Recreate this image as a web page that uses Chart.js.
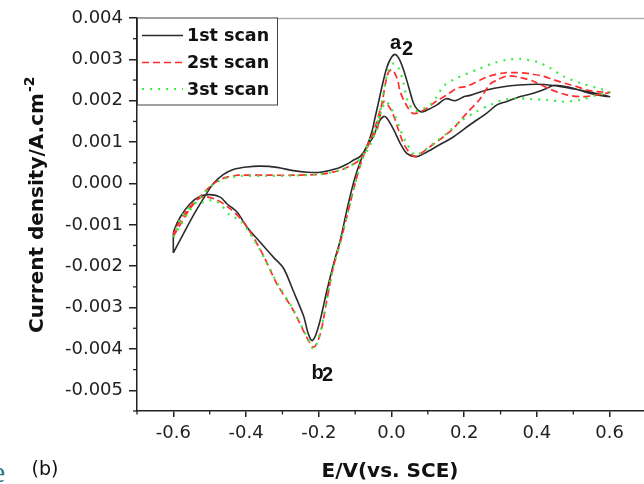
<!DOCTYPE html>
<html>
<head>
<meta charset="utf-8">
<script src="https://cdn.jsdelivr.net/npm/chart.js@4.4.1/dist/chart.umd.min.js"></script>
<style>
  html, body { margin:0; padding:0; background:#fff; overflow:hidden; width:644px; height:484px; }
  canvas { display:block; }
</style>
</head>
<body>
<canvas id="c" width="646" height="484"></canvas>
<script>
// ---- Data (E in V vs. SCE, current density in A/cm^2) ----
const seriesNames = ['1st scan', '2st scan', '3st scan'];

const scan1FwdE = [-0.6,-0.572,-0.545,-0.517,-0.49,-0.462,-0.435,-0.398,-0.361,-0.315,-0.27,-0.23,-0.196,-0.15,-0.12,-0.105,-0.085,-0.068,-0.054,-0.045,-0.036,-0.026,-0.013,0.0,0.01,0.02,0.033,0.047,0.06,0.07,0.082,0.097,0.125,0.15,0.175,0.2,0.216,0.262,0.308,0.35,0.4,0.445,0.48,0.519,0.56,0.6];
const scan1FwdJ = [-0.00168,-0.00121,-0.00077,-0.00036,0.0,0.00022,0.00034,0.0004,0.00042,0.00039,0.00031,0.00027,0.00027,0.00036,0.00048,0.00056,0.00066,0.0009,0.00125,0.0016,0.00195,0.00235,0.0028,0.00305,0.00312,0.00303,0.00275,0.00234,0.00195,0.0018,0.00173,0.00177,0.0019,0.00205,0.002,0.0021,0.00213,0.00226,0.00234,0.00238,0.0024,0.00237,0.00232,0.00226,0.00218,0.0021];
const scan1RevE = [0.565,0.53,0.5,0.465,0.445,0.427,0.39,0.354,0.317,0.29,0.262,0.216,0.171,0.125,0.095,0.07,0.042,0.024,0.006,-0.013,-0.022,-0.036,-0.05,-0.068,-0.091,-0.105,-0.123,-0.141,-0.155,-0.178,-0.196,-0.21,-0.219,-0.23,-0.242,-0.27,-0.297,-0.325,-0.343,-0.361,-0.398,-0.425,-0.453,-0.471,-0.499,-0.526,-0.554,-0.581,-0.598,-0.6,-0.6];
const scan1RevJ = [0.00214,0.00222,0.0023,0.00236,0.00237,0.0023,0.00218,0.0021,0.00198,0.0019,0.0017,0.00142,0.00113,0.0009,0.00075,0.00065,0.00073,0.00097,0.0013,0.00158,0.00162,0.00146,0.00113,0.00089,0.0004,0.0,-0.00065,-0.00138,-0.0018,-0.0026,-0.0033,-0.0037,-0.0038,-0.0036,-0.0032,-0.0026,-0.00205,-0.00178,-0.0016,-0.00142,-0.00105,-0.00069,-0.00049,-0.00033,-0.00027,-0.00031,-0.00049,-0.00081,-0.00113,-0.00125,-0.00168];

const scan2FwdE = [-0.6,-0.58,-0.555,-0.527,-0.5,-0.475,-0.45,-0.42,-0.35,-0.27,-0.2,-0.17,-0.14,-0.12,-0.095,-0.077,-0.06,-0.04,-0.026,-0.011,0.001,0.015,0.024,0.038,0.056,0.07,0.097,0.125,0.152,0.18,0.207,0.244,0.271,0.308,0.345,0.381,0.418,0.445,0.473,0.51,0.537,0.565,0.6];
const scan2FwdJ = [-0.00128,-0.00098,-0.00062,-0.00032,-0.00008,0.00008,0.00016,0.0002,0.0002,0.0002,0.00022,0.00026,0.00032,0.0004,0.00052,0.0007,0.00105,0.0013,0.00194,0.00263,0.00275,0.00255,0.00222,0.00194,0.00171,0.0017,0.00182,0.002,0.00214,0.0023,0.00235,0.0025,0.0026,0.00267,0.00268,0.00265,0.00259,0.00251,0.00243,0.00234,0.00226,0.00222,0.0022];
const scan2RevE = [0.565,0.528,0.482,0.436,0.39,0.355,0.32,0.29,0.271,0.244,0.207,0.171,0.143,0.106,0.065,0.051,0.033,0.019,0.01,-0.004,-0.022,-0.04,-0.06,-0.08,-0.1,-0.12,-0.14,-0.16,-0.178,-0.196,-0.214,-0.233,-0.27,-0.315,-0.352,-0.38,-0.407,-0.444,-0.48,-0.517,-0.545,-0.575,-0.6];
const scan2RevJ = [0.00214,0.0021,0.00214,0.00228,0.00247,0.00256,0.0026,0.0025,0.0024,0.00205,0.0017,0.00134,0.00113,0.00089,0.00065,0.00073,0.00097,0.0013,0.00154,0.00182,0.00198,0.0015,0.001,0.0006,0.0,-0.0007,-0.0014,-0.00202,-0.00283,-0.00364,-0.00396,-0.00372,-0.00307,-0.00243,-0.00175,-0.0013,-0.00093,-0.00061,-0.0004,-0.00032,-0.00048,-0.0008,-0.00122];

const scan3FwdE = [-0.6,-0.58,-0.555,-0.527,-0.5,-0.475,-0.45,-0.42,-0.35,-0.27,-0.2,-0.17,-0.14,-0.12,-0.095,-0.077,-0.06,-0.04,-0.026,-0.01,0.005,0.019,0.033,0.046,0.065,0.085,0.106,0.125,0.143,0.18,0.235,0.281,0.317,0.354,0.4,0.436,0.473,0.519,0.565,0.6];
const scan3FwdJ = [-0.0013,-0.001,-0.00065,-0.00035,-0.0001,0.00006,0.00014,0.00018,0.00018,0.00019,0.00022,0.00026,0.00032,0.0004,0.00052,0.0007,0.00105,0.0014,0.002,0.0027,0.0029,0.0028,0.00243,0.00195,0.00176,0.0018,0.0019,0.0021,0.00235,0.00255,0.00275,0.00291,0.00299,0.00301,0.00294,0.00279,0.00259,0.00243,0.00231,0.0022];
const scan3RevE = [0.565,0.519,0.473,0.427,0.381,0.345,0.308,0.271,0.226,0.189,0.152,0.116,0.079,0.065,0.042,0.024,0.006,-0.015,-0.03,-0.045,-0.06,-0.08,-0.1,-0.12,-0.14,-0.16,-0.178,-0.196,-0.214,-0.233,-0.27,-0.315,-0.338,-0.361,-0.389,-0.416,-0.444,-0.471,-0.49,-0.517,-0.545,-0.563,-0.581,-0.6];
const scan3RevJ = [0.00214,0.00202,0.00198,0.00202,0.00204,0.00206,0.00202,0.0019,0.0017,0.0015,0.00121,0.00097,0.00073,0.00068,0.00097,0.0013,0.0017,0.00198,0.0017,0.00125,0.0009,0.0006,0.0,-0.0007,-0.0014,-0.00202,-0.0028,-0.0036,-0.004,-0.0037,-0.00305,-0.0024,-0.002,-0.00162,-0.00121,-0.00089,-0.00077,-0.0005,-0.0004,-0.00045,-0.00049,-0.00065,-0.00085,-0.0013];

const xTickValues = [-0.6,-0.4,-0.2,0.0,0.2,0.4,0.6];
const xMinorValues = [-0.7,-0.5,-0.3,-0.1,0.1,0.3,0.5,0.7];
const yTickValues = [-0.005,-0.004,-0.003,-0.002,-0.001,0.0,0.001,0.002,0.003,0.004];
const yMinorValues = [-0.0055,-0.0045,-0.0035,-0.0025,-0.0015,-0.0005,0.0005,0.0015,0.0025,0.0035];

// ---- helpers ----
function pts(E1, J1, E2, J2) {
  const a = E1.map((e, i) => ({x: e, y: J1[i]}));
  const b = E2.map((e, i) => ({x: e, y: J2[i]}));
  return a.concat(b);
}

const styles = [
  {color:'#2b2b2b', dash:[], width:1.6},
  {color:'#ff2e2e', dash:[7,4], width:1.7},
  {color:'#3cec3c', dash:[2,6], width:2.2}
];

const decor = {
  id: 'decor',
  afterDraw(chart) {
    const {ctx, chartArea: a, scales: {x, y}} = chart;
    ctx.save();
    // top frame line
    ctx.strokeStyle = '#b0b0b0'; ctx.lineWidth = 1.5; ctx.setLineDash([]);
    ctx.beginPath(); ctx.moveTo(a.left, a.top + 0.5); ctx.lineTo(a.right, a.top + 0.5); ctx.stroke();
    // minor ticks
    ctx.strokeStyle = '#222'; ctx.lineWidth = 1.3;
    yMinorValues.forEach(v => {
      const py = y.getPixelForValue(v);
      ctx.beginPath(); ctx.moveTo(a.left - 4, py); ctx.lineTo(a.left, py); ctx.stroke();
    });
    xMinorValues.forEach(v => {
      const px = x.getPixelForValue(v);
      ctx.beginPath(); ctx.moveTo(px, a.bottom); ctx.lineTo(px, a.bottom + 3.5); ctx.stroke();
    });
    // legend box
    const lx = a.left, ly = a.top - 0.5, lw = 140, lh = 87;
    ctx.fillStyle = '#fff';
    ctx.fillRect(lx, ly, lw, lh);
    ctx.strokeStyle = '#444'; ctx.lineWidth = 1;
    ctx.strokeRect(lx + 0.5, ly + 0.5, lw, lh);
    const rows = [35.5, 62.5, 89];
    seriesNames.forEach((name, i) => {
      const st = styles[i];
      ctx.strokeStyle = st.color; ctx.lineWidth = st.width; ctx.setLineDash(st.dash);
      ctx.beginPath(); ctx.moveTo(lx + 5, rows[i]); ctx.lineTo(lx + 46, rows[i]); ctx.stroke();
      ctx.setLineDash([]);
      ctx.fillStyle = '#111';
      ctx.font = 'bold 17.5px "DejaVu Sans"';
      ctx.textAlign = 'left'; ctx.textBaseline = 'middle';
      ctx.fillText(name, lx + 50, rows[i] + 1);
    });
    // peak annotations
    ctx.fillStyle = '#111';
    ctx.textBaseline = 'alphabetic'; ctx.textAlign = 'left';
    ctx.font = 'bold 20px "Liberation Sans"';
    ctx.fillText('a', 390, 48.5);
    ctx.fillText('2', 402, 55);
    ctx.fillText('b', 311.5, 378.5);
    ctx.fillText('2', 322, 381);
    // axis titles
    ctx.font = 'bold 20px "DejaVu Sans"';
    ctx.textAlign = 'center';
    ctx.fillText('E/V(vs. SCE)', 390, 476.5);
    ctx.save();
    ctx.translate(43, 333);
    ctx.rotate(-Math.PI / 2);
    ctx.textAlign = 'left';
    const main = 'Current density/A.cm';
    ctx.fillText(main, 0, 0);
    const w = ctx.measureText(main).width;
    ctx.font = 'bold 14px "DejaVu Sans"';
    ctx.fillText('-2', w + 1, -9);
    ctx.restore();
    // panel label
    ctx.font = '19px "DejaVu Sans"';
    ctx.textAlign = 'left';
    ctx.fillStyle = '#111';
    ctx.fillText('(b)', 31.5, 475);
    ctx.fillStyle = '#2a7a84';
    ctx.font = '30px "Liberation Serif"';
    ctx.fillText('e', -8, 482);
    ctx.restore();
  }
};

const tickFont = {family: 'DejaVu Sans', size: 18};

const datasets = [
  {label: seriesNames[0], data: pts(scan1FwdE, scan1FwdJ, scan1RevE, scan1RevJ)},
  {label: seriesNames[1], data: pts(scan2FwdE, scan2FwdJ, scan2RevE, scan2RevJ)},
  {label: seriesNames[2], data: pts(scan3FwdE, scan3FwdJ, scan3RevE, scan3RevJ)}
].map((d, i) => Object.assign(d, {
  showLine: true, pointRadius: 0, fill: false, tension: 0.3,
  borderColor: styles[i].color, borderDash: styles[i].dash, borderWidth: styles[i].width,
  order: 3 - i
}));

new Chart(document.getElementById('c'), {
  type: 'scatter',
  data: { datasets: datasets },
  options: {
    responsive: false, animation: false, events: [],
    layout: {padding: {top: 18, left: 0, right: 0, bottom: 0}},
    plugins: {legend: {display: false}, tooltip: {enabled: false}},
    scales: {
      x: {
        type: 'linear', min: -0.7, max: 0.7,
        afterBuildTicks: s => { s.ticks = xTickValues.map(v => ({value: v})); },
        afterFit: s => { s.height = 73; },
        grid: {drawOnChartArea: false, tickLength: 6, color: '#222', lineWidth: 1.5},
        border: {color: '#222', width: 1.5},
        ticks: {callback: v => v.toFixed(1), font: tickFont, color: '#222', padding: 6, maxRotation: 0, autoSkip: false}
      },
      y: {
        type: 'linear', min: -0.0055, max: 0.004,
        afterBuildTicks: s => { s.ticks = yTickValues.map(v => ({value: v})); },
        afterFit: s => { s.width = 137; },
        grid: {drawOnChartArea: false, tickLength: 8, color: '#222', lineWidth: 1.5},
        border: {color: '#222', width: 1.5},
        ticks: {callback: v => v.toFixed(3), font: tickFont, color: '#222', padding: 6, autoSkip: false}
      }
    }
  },
  plugins: [decor]
});
</script>
</body>
</html>
